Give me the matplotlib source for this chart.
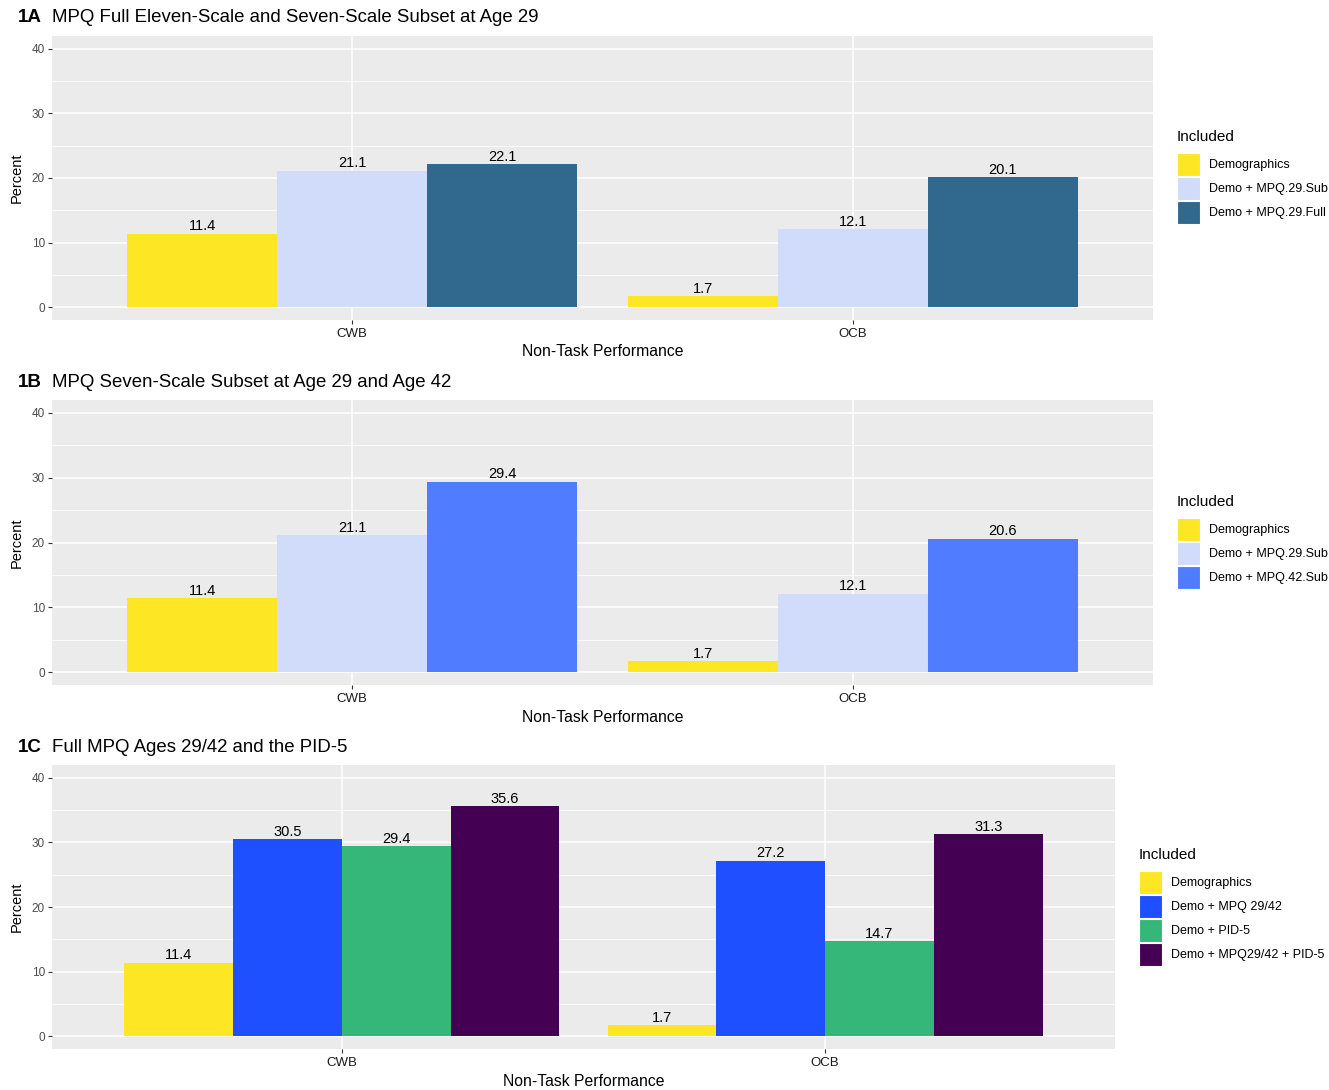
import matplotlib
matplotlib.use("Agg")
import matplotlib.pyplot as plt
import numpy as np
from matplotlib.patches import Rectangle

plt.rcParams['font.family'] = ['Liberation Sans', 'DejaVu Sans']

W, H = 1329, 1090

categories = ['CWB', 'OCB']

# Panel A
a_labels = ['Demographics', 'Demo + MPQ.29.Sub', 'Demo + MPQ.29.Full']
a_demo = [11.4, 1.7]
a_sub29 = [21.1, 12.1]
a_full29 = [22.1, 20.1]

# Panel B
b_labels = ['Demographics', 'Demo + MPQ.29.Sub', 'Demo + MPQ.42.Sub']
b_demo = [11.4, 1.7]
b_sub29 = [21.1, 12.1]
b_sub42 = [29.4, 20.6]

# Panel C
c_labels = ['Demographics', 'Demo + MPQ 29/42', 'Demo + PID-5', 'Demo + MPQ29/42 + PID-5']
c_demo = [11.4, 1.7]
c_mpq = [30.5, 27.2]
c_pid = [29.4, 14.7]
c_both = [35.6, 31.3]

yticks = [0, 10, 20, 30, 40]

YELLOW = '#FDE725'
LIGHT = '#D0DCFA'
TEAL = '#31688E'
BLUE_B = '#507DFF'
BLUE_C = '#1F50FF'
GREEN = '#35B779'
PURPLE = '#440154'

fig = plt.figure(figsize=(W / 100, H / 100), dpi=100)


def px_axes(x0, y0, x1, y1):
    return fig.add_axes([x0 / W, 1 - y1 / H, (x1 - x0) / W, (y1 - y0) / H])


def legend(x, y_title, labels, colors):
    fig.text(x / W, 1 - y_title / H, 'Included', fontsize=11, va='center', ha='left')
    key = 23
    top = y_title + 16
    for i, (lab, col) in enumerate(zip(labels, colors)):
        y0 = top + i * (key + 1)
        fig.add_artist(Rectangle((x / W, 1 - (y0 + key) / H), key / W, key / H,
                                 transform=fig.transFigure, facecolor=col,
                                 edgecolor='white', linewidth=0.8))
        fig.text((x + key + 9) / W, 1 - (y0 + key / 2 + 0.5) / H, lab, fontsize=9,
                 va='center', ha='left')


def panel(box, tag, title, title_y, series, labels, colors, leg_pos):
    ax = px_axes(*box)
    ax.set_facecolor('#EBEBEB')
    n = len(series)
    x = np.arange(1, len(categories) + 1)
    w = 0.9 / n
    for i, (vals, lab, col) in enumerate(zip(series, labels, colors)):
        pos = x - 0.45 + w * (i + 0.5)
        bars = ax.bar(pos, vals, width=w, color=col, label=lab, zorder=3)
        ax.bar_label(bars, fmt='%.1f', padding=0.3, fontsize=10.5, color='black', zorder=4)
    ax.set_xlim(0.4, 2.6)
    ax.set_ylim(-2, 42)
    ax.set_yticks(yticks)
    ax.set_yticks([5, 15, 25, 35], minor=True)
    ax.set_xticks(x)
    ax.set_xticklabels(categories)
    ax.grid(which='major', axis='y', color='white', linewidth=1.1, zorder=0)
    ax.grid(which='minor', axis='y', color='white', linewidth=0.55, zorder=0)
    ax.grid(which='major', axis='x', color='white', linewidth=1.1, zorder=0)
    ax.tick_params(axis='both', which='major', length=3, width=0.8, color='#333333',
                   labelcolor='#4D4D4D', labelsize=8.5, pad=2)
    ax.tick_params(axis='both', which='minor', length=0)
    ax.tick_params(axis='x', labelcolor='#1a1a1a', labelsize=9.5, pad=3)
    for s in ax.spines.values():
        s.set_visible(False)
    ax.set_axisbelow(True)
    ax.set_ylabel('Percent', fontsize=10.5, labelpad=6)
    ax.set_xlabel('Non-Task Performance', fontsize=11.3, labelpad=3)
    fig.text(18 / W, 1 - title_y / H, tag, fontsize=13.5, fontweight='bold', va='center', ha='left')
    fig.text(52 / W, 1 - title_y / H, title, fontsize=13.4, va='center', ha='left')
    legend(leg_pos[0], leg_pos[1], labels, colors)
    return ax


panel((52, 36, 1153, 320), '1A', 'MPQ Full Eleven-Scale and Seven-Scale Subset at Age 29', 18,
      [a_demo, a_sub29, a_full29], a_labels, [YELLOW, LIGHT, TEAL], (1177, 137))
panel((52, 400, 1153, 685), '1B', 'MPQ Seven-Scale Subset at Age 29 and Age 42', 382,
      [b_demo, b_sub29, b_sub42], b_labels, [YELLOW, LIGHT, BLUE_B], (1177, 502))
panel((52, 765, 1115, 1049), '1C', 'Full MPQ Ages 29/42 and the PID-5', 747,
      [c_demo, c_mpq, c_pid, c_both], c_labels, [YELLOW, BLUE_C, GREEN, PURPLE], (1139, 855))

fig.savefig('out.png', dpi=100, facecolor='white')
